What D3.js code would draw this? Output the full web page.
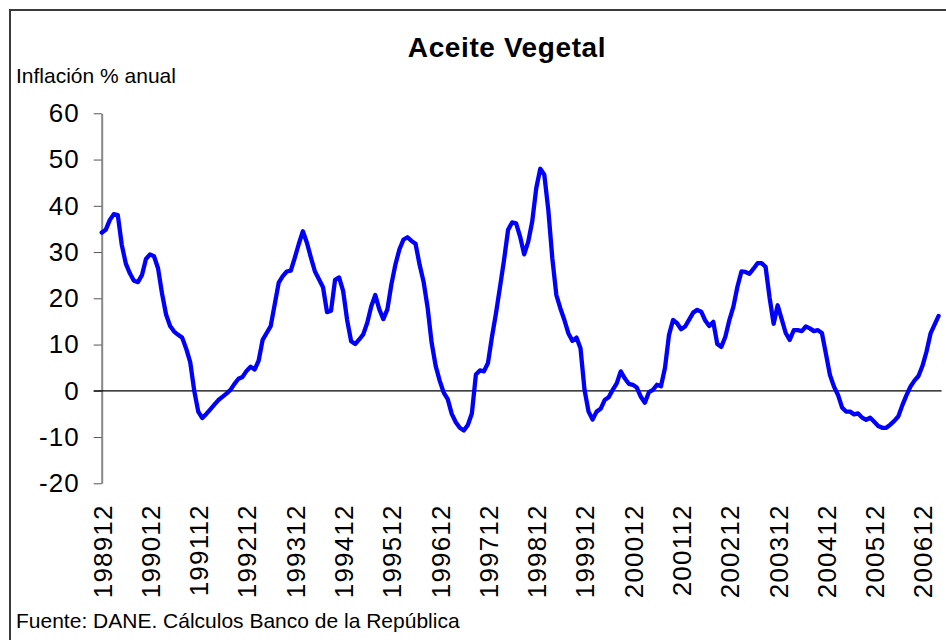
<!DOCTYPE html>
<html>
<head>
<meta charset="utf-8">
<script src="https://cdn.jsdelivr.net/npm/d3@7"></script>
<style>
  body { margin: 0; background: #fff; }
  svg { display: block; font-family: Arial, "Liberation Sans", sans-serif; }
</style>
</head>
<body>
<div id="chart"></div>
<script>
// monthly annual inflation, 1989-12 .. 2007-04
const values = [
  34.2, 34.8, 36.9, 38.2, 38.0, 31.5, 27.5, 25.4, 23.8, 23.5, 25.0, 28.5,
  29.5, 29.1, 26.5, 21.0, 16.5, 14.0, 12.8, 12.1, 11.5, 9.1, 6.2, 0.0,
  -4.5, -5.9, -5.0, -4.0, -3.0, -2.0, -1.3, -0.6, 0.2, 1.5, 2.6, 3.0,
  4.3, 5.2, 4.6, 6.5, 11.0, 12.5, 14.0, 18.7, 23.4, 24.8, 25.8, 26.0,
  28.8, 31.8, 34.5, 32.0, 28.8, 25.8, 24.1, 22.4, 17.0, 17.3, 24.0, 24.5,
  21.6, 15.3, 10.7, 10.1, 11.1, 12.2, 14.7, 18.3, 20.7, 17.6, 15.5, 17.6,
  23.0, 27.3, 30.6, 32.7, 33.2, 32.4, 31.8, 27.3, 23.6, 18.0, 10.4, 5.4,
  2.2, -0.4, -1.8, -5.0, -6.8, -8.0, -8.6, -7.4, -4.9, 3.5, 4.4, 4.2,
  6.0, 11.7, 16.8, 22.5, 28.3, 34.8, 36.4, 36.2, 33.3, 29.5, 32.2, 36.6,
  43.8, 48.0, 46.7, 39.1, 28.6, 20.7, 17.8, 15.3, 12.4, 10.8, 11.5, 9.2,
  0.2, -4.5, -6.2, -4.5, -3.9, -2.0, -1.4, 0.2, 1.6, 4.2, 2.7, 1.5,
  1.3, 0.7, -1.3, -2.6, -0.3, 0.2, 1.3, 1.0, 5.0, 12.1, 15.3, 14.6,
  13.3, 13.9, 15.4, 16.9, 17.5, 17.1, 15.2, 14.0, 14.9, 10.1, 9.5, 11.7,
  15.3, 18.2, 22.5, 25.8, 25.7, 25.3, 26.4, 27.6, 27.6, 26.8, 20.1, 14.5,
  18.5, 15.5, 12.5, 11.0, 13.1, 13.1, 12.9, 13.9, 13.5, 12.9, 13.1, 12.5,
  8.0, 3.4, 0.9, -0.9, -3.6, -4.5, -4.5, -5.1, -4.9, -5.8, -6.3, -5.8,
  -6.7, -7.6, -8.0, -8.0, -7.3, -6.5, -5.5, -3.1, -1.0, 0.9, 2.2, 3.2,
  5.4, 8.5, 12.4, 14.3, 16.2
];

// one label every 12 months, starting at the first month
const xTickLabels = ["198912", "199012", "199112", "199212", "199312", "199412",
  "199512", "199612", "199712", "199812", "199912", "200012", "200112",
  "200212", "200312", "200412", "200512", "200612"];

const yTicks = [-20, -10, 0, 10, 20, 30, 40, 50, 60];

const title = "Aceite Vegetal";
const yLabel = "Inflación % anual";
const source = "Fuente: DANE. Cálculos Banco de la República";

const width = 946;
const height = 640;

const svg = d3.select('#chart')
  .append('svg')
  .attr('width', width)
  .attr('height', height);

// outer frame (runs off the right and bottom of the picture)
svg.append('rect')
  .attr('x', 10)
  .attr('y', 10)
  .attr('width', 980)
  .attr('height', 680)
  .attr('fill', 'none')
  .attr('stroke', '#3a3a3a')
  .attr('stroke-width', 2);

const x = d3.scaleLinear()
  .domain([0, values.length - 1])
  .range([101.7, 938.6]);

const y = d3.scaleLinear()
  .domain([-20, 60])
  .range([483.3, 113.3]);

// title and labels
svg.append('text')
  .attr('x', 507)
  .attr('y', 57)
  .attr('text-anchor', 'middle')
  .style('font-size', '28px')
  .style('font-weight', 'bold')
  .style('letter-spacing', '0.6px')
  .text(title);

svg.append('text')
  .attr('x', 16)
  .attr('y', 83)
  .style('font-size', '21px')
  .text(yLabel);

svg.append('text')
  .attr('x', 16)
  .attr('y', 628)
  .style('font-size', '21px')
  .text(source);

// y axis
const yAxis = svg.append('g')
  .attr('transform', `translate(${x(0)},0)`)
  .call(d3.axisLeft(y)
    .tickValues(yTicks)
    .tickFormat((d) => String(d))
    .tickSize(8)
    .tickSizeOuter(0)
    .tickPadding(14));

yAxis.select('.domain')
  .attr('stroke', '#888')
  .attr('stroke-width', 2);
yAxis.selectAll('.tick line')
  .attr('stroke', '#555')
  .attr('stroke-width', 1);
yAxis.selectAll('.tick text')
  .style('font-family', 'Arial, "Liberation Sans", sans-serif')
  .style('font-size', '26px')
  .style('letter-spacing', '1px')
  .attr('fill', '#000');

// x axis labels (rotated), below the plot
const xAxis = svg.append('g')
  .attr('transform', `translate(0,${y(-20)})`)
  .call(d3.axisBottom(x)
    .tickValues(xTickLabels.map((d, i) => i * 12))
    .tickFormat((d, i) => xTickLabels[i])
    .tickSize(0));

xAxis.select('.domain').remove();
xAxis.selectAll('.tick text')
  .style('font-family', 'Arial, "Liberation Sans", sans-serif')
  .style('font-size', '26px')
  .style('letter-spacing', '1.2px')
  .attr('fill', '#000')
  .attr('transform', 'rotate(-90)')
  .attr('text-anchor', 'end')
  .attr('x', -21)
  .attr('y', 0)
  .attr('dy', '0.36em');

// zero line
svg.append('line')
  .attr('x1', x(0) - 8)
  .attr('x2', x(values.length - 1) + 3)
  .attr('y1', y(0))
  .attr('y2', y(0))
  .attr('stroke', '#000')
  .attr('stroke-width', 1.3);

// series
const line = d3.line()
  .x((d, i) => x(i))
  .y((d) => y(d));

svg.append('path')
  .datum(values)
  .attr('d', line)
  .attr('fill', 'none')
  .attr('stroke', '#0000ff')
  .attr('stroke-width', 4.3)
  .attr('stroke-linejoin', 'round')
  .attr('stroke-linecap', 'round');
</script>
</body>
</html>
